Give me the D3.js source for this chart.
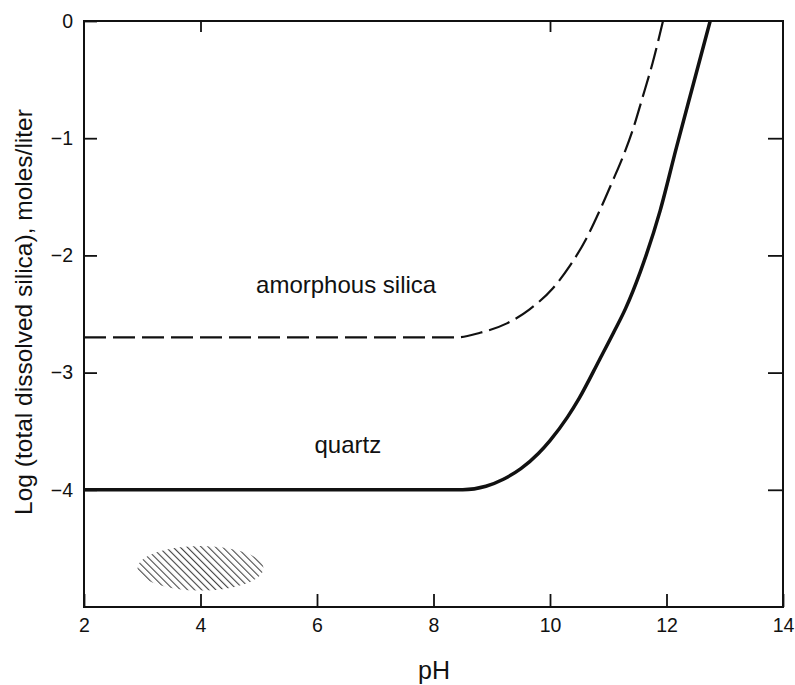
<!DOCTYPE html>
<html>
<head>
<meta charset="utf-8">
<script src="https://cdn.jsdelivr.net/npm/d3@7"></script>
<style>
  body { margin: 0; background: #fff; }
  text { font-family: "Liberation Sans", Arial, sans-serif; fill: #111; }
</style>
</head>
<body>
<svg width="795" height="685"></svg>
<script>
var svg = d3.select('svg');

// data
var xTicks = [2, 4, 6, 8, 10, 12, 14];
var topTicks = [4, 10];
var yTicks = [0, -1, -2, -3, -4];
var rightTicks = [-1, -2, -3, -4];

var quartzPH  = [2, 8.5, 8.9, 9.2, 9.5, 9.8, 10.0, 10.3, 10.5, 10.85, 11.09, 11.3, 11.55, 11.89, 12.17, 12.46, 12.75];
var quartzLog = [-4, -4, -3.97, -3.91, -3.82, -3.69, -3.58, -3.38, -3.22, -2.89, -2.66, -2.45, -2.14, -1.62, -1.08, -0.54, 0];

var amorphPH  = [2, 8.4, 8.8, 9.26, 9.65, 10.05, 10.34, 10.63, 10.86, 11.08, 11.25, 11.42, 11.59, 11.76, 11.94];
var amorphLog = [-2.7, -2.7, -2.66, -2.58, -2.46, -2.28, -2.09, -1.85, -1.61, -1.36, -1.16, -0.93, -0.65, -0.36, 0];

// hatched region: centre pH, centre log, half-width (pH), half-height (log)
var blob = [{ph: 4, logc: -4.67, dph: 1.08, dlog: 0.19}];

var labels = [
    {text: 'amorphous silica', ph: 6.5, logc: -2.32},
    {text: 'quartz', ph: 6.53, logc: -3.69}
];

var x = d3.scaleLinear().domain([2, 14]).range([84, 783]);
var y = d3.scaleLinear().domain([-5, 0]).range([607, 21]);

// hatch pattern
var defs = svg.append('defs');
var pat = defs.append('pattern')
    .attr('id', 'hatch')
    .attr('patternUnits', 'userSpaceOnUse')
    .attr('width', 5)
    .attr('height', 5)
    .attr('patternTransform', 'rotate(-45)');
pat.append('line')
    .attr('x1', 0).attr('y1', 0)
    .attr('x2', 0).attr('y2', 5)
    .attr('stroke', '#444')
    .attr('stroke-width', 2.2);

svg.selectAll('ellipse')
    .data(blob)
    .enter()
    .append('ellipse')
    .attr('cx', function(d){ return x(d.ph); })
    .attr('cy', function(d){ return y(d.logc); })
    .attr('rx', function(d){ return x(d.ph + d.dph) - x(d.ph); })
    .attr('ry', function(d){ return y(d.logc - d.dlog) - y(d.logc); })
    .attr('fill', 'url(#hatch)');

// axes, ticks pointing inward
var gx = svg.append('g')
    .attr('transform', 'translate(0,607)')
    .call(d3.axisBottom(x).tickValues(xTicks).tickSize(-13).tickPadding(11).tickFormat(d3.format('d')));
var gt = svg.append('g')
    .attr('transform', 'translate(0,21)')
    .call(d3.axisTop(x).tickValues(topTicks).tickSize(-11).tickFormat(''));
var gy = svg.append('g')
    .attr('transform', 'translate(84,0)')
    .call(d3.axisLeft(y).tickValues(yTicks).tickSize(-13).tickPadding(11).tickFormat(d3.format('d')));
var gr = svg.append('g')
    .attr('transform', 'translate(783,0)')
    .call(d3.axisRight(y).tickValues(rightTicks).tickSize(-15).tickFormat(''));

[gx, gt, gy, gr].forEach(function(g){
    g.select('.domain').remove();
    g.selectAll('line').attr('stroke', '#111').attr('stroke-width', 1.8);
    g.selectAll('text').style('font-size', '19.5px')
        .style('font-family', '"Liberation Sans", Arial, sans-serif').attr('fill', '#111');
});

svg.append('rect')
    .attr('x', 84)
    .attr('y', 21)
    .attr('width', 783 - 84)
    .attr('height', 607 - 21)
    .attr('fill', 'none')
    .attr('stroke', '#111')
    .attr('stroke-width', 2);

var line = d3.line()
    .x(function(d){ return x(d[0]); })
    .y(function(d){ return y(d[1]); })
    .curve(d3.curveMonotoneX);

svg.append('path')
    .datum(quartzPH.map(function(p, i){ return [p, quartzLog[i]]; }))
    .attr('d', line)
    .attr('fill', 'none')
    .attr('stroke', '#111')
    .attr('stroke-width', 3.5);

svg.append('path')
    .datum(amorphPH.map(function(p, i){ return [p, amorphLog[i]]; }))
    .attr('d', line)
    .attr('fill', 'none')
    .attr('stroke', '#111')
    .attr('stroke-width', 2.2)
    .attr('stroke-dasharray', '22,7');

svg.selectAll('text.lab')
    .data(labels)
    .enter()
    .append('text')
    .attr('class', 'lab')
    .attr('x', function(d){ return x(d.ph); })
    .attr('y', function(d){ return y(d.logc); })
    .attr('text-anchor', 'middle')
    .style('font-size', '24px')
    .text(function(d){ return d.text; });

svg.append('text')
    .attr('x', 434)
    .attr('y', 679)
    .attr('text-anchor', 'middle')
    .style('font-size', '25px')
    .text('pH');

svg.append('text')
    .attr('transform', 'translate(32,312) rotate(-90)')
    .attr('text-anchor', 'middle')
    .style('font-size', '24.5px')
    .text('Log (total dissolved silica), moles/liter');
</script>
</body>
</html>
